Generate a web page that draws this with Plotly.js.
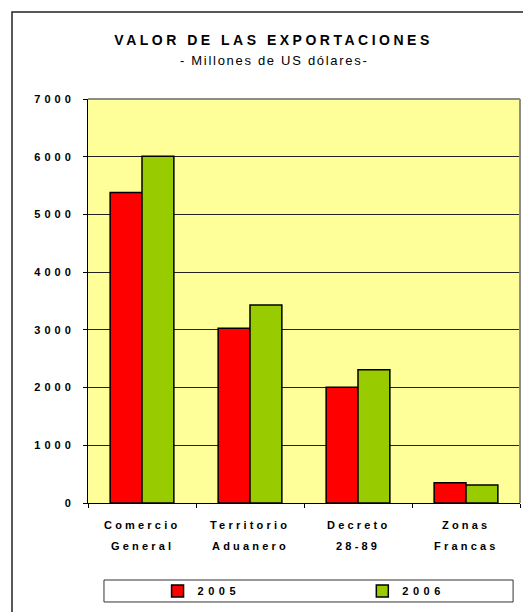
<!DOCTYPE html>
<html>
<head>
<meta charset="utf-8">
<script src="https://cdn.plot.ly/plotly-3.0.1.min.js"></script>
<style>
  html, body { margin: 0; padding: 0; background: #fff; }
  #chart { width: 523px; height: 612px; }
</style>
</head>
<body>
<div id="chart"></div>
<script>
// ---- data ----
var categories = ['Comercio General', 'Territorio Aduanero', 'Decreto 28-89', 'Zonas Francas'];
var labelLine1 = ['Comercio', 'Territorio', 'Decreto', 'Zonas'];
var labelLine2 = ['General', 'Aduanero', '28-89', 'Francas'];
var values2005 = [5380, 3030, 2005, 352];
var values2006 = [6010, 3430, 2310, 312];
var yTicks = [0, 1000, 2000, 3000, 4000, 5000, 6000, 7000];
var seriesNames = ['2005', '2006'];
var titleText = 'VALOR DE LAS EXPORTACIONES';
var subtitleText = '- Millones de US dólares-';

function sp(text, px) {
  return '<span style="letter-spacing:' + px + 'px">' + text + '</span>';
}
function bsp(text, px) {
  return '<b>' + sp(text, px) + '</b>';
}

var FONT = 'Arial, "Liberation Sans", sans-serif';

var traces = [
  {
    type: 'bar', name: bsp(seriesNames[0], 4.5), x: categories, y: values2005,
    legend: 'legend',
    marker: { color: '#FF0000', line: { color: '#000000', width: 1.5 } }
  },
  {
    type: 'bar', name: bsp(seriesNames[1], 4.5), x: categories, y: values2006,
    legend: 'legend2',
    marker: { color: '#99CC00', line: { color: '#000000', width: 1.5 } }
  }
];

var annotations = [];
categories.forEach(function (c, i) {
  annotations.push({
    xref: 'x', yref: 'paper', x: c, y: -0.0545, yanchor: 'middle', xanchor: 'center',
    text: bsp(labelLine1[i], 3.2), showarrow: false,
    font: { family: FONT, size: 11, color: '#000', weight: 'bold' }
  });
  annotations.push({
    xref: 'x', yref: 'paper', x: c, y: -0.1064, yanchor: 'middle', xanchor: 'center',
    text: bsp(labelLine2[i], 3.2), showarrow: false,
    font: { family: FONT, size: 11, color: '#000', weight: 'bold' }
  });
});
annotations.push({
  xref: 'paper', yref: 'paper', x: 0.431, y: 1.0965, xanchor: 'center', yanchor: 'middle',
  text: sp(subtitleText, 1.7), showarrow: false,
  font: { family: FONT, size: 13, color: '#000' }
});

var legendBase = {
  orientation: 'h', y: -0.218, xanchor: 'left', yanchor: 'middle',
  bgcolor: 'rgba(0,0,0,0)', borderwidth: 0,
  font: { family: FONT, size: 11, color: '#000', weight: 'bold' }
};

var layout = {
  width: 523, height: 612,
  margin: { l: 88, r: 3, t: 99, b: 109, pad: 0 },
  paper_bgcolor: '#FFFFFF',
  plot_bgcolor: '#FFFF99',
  font: { family: FONT, color: '#000' },
  title: {
    text: bsp(titleText, 3.5),
    xref: 'container', yref: 'container', x: 0.523, y: 0.9346,
    xanchor: 'center', yanchor: 'middle',
    font: { family: FONT, size: 14, color: '#000', weight: 'bold' }
  },
  barmode: 'group', bargap: 0.41, bargroupgap: 0,
  xaxis: {
    type: 'category', tickson: 'boundaries', ticks: 'outside', ticklen: 4,
    tickcolor: '#000', tickwidth: 1, showticklabels: false,
    showline: true, linecolor: '#000', linewidth: 1,
    showgrid: false, zeroline: false, fixedrange: true
  },
  yaxis: {
    range: [0, 7000], tickmode: 'array', tickvals: yTicks,
    ticktext: yTicks.map(function (v) { return bsp(String(v), 4); }),
    ticks: 'outside', ticklen: 4, tickcolor: '#000', tickwidth: 1,
    ticklabelstandoff: 6,
    tickfont: { family: FONT, size: 11, color: '#000', weight: 'bold' },
    showline: true, linecolor: '#000', linewidth: 1,
    showgrid: true, gridcolor: '#222', gridwidth: 1,
    zeroline: false, fixedrange: true
  },
  showlegend: true,
  legend: Object.assign({}, legendBase, { x: 0.161 }),
  legend2: Object.assign({}, legendBase, { x: 0.635 }),
  annotations: annotations,
  shapes: [
    { type: 'rect', xref: 'paper', yref: 'paper', x0: -0.1759, x1: 1.05, y0: -0.3, y1: 1.2153,
      line: { color: '#222', width: 1.5 }, fillcolor: 'rgba(0,0,0,0)', layer: 'below' },
    { type: 'line', xref: 'paper', yref: 'paper', x0: 0, x1: 1, y0: 1, y1: 1,
      line: { color: '#8C8C8C', width: 2 }, layer: 'above' },
    { type: 'line', xref: 'paper', yref: 'paper', x0: 1, x1: 1, y0: 0, y1: 1,
      line: { color: '#8C8C8C', width: 2 }, layer: 'above' },
    { type: 'rect', xref: 'paper', yref: 'paper', x0: 0.037, x1: 0.984, y0: -0.245, y1: -0.1906,
      line: { color: '#333', width: 1 }, fillcolor: 'rgba(0,0,0,0)', layer: 'below' }
  ]
};

Plotly.newPlot('chart', traces, layout, { displayModeBar: false, staticPlot: true });
</script>
</body>
</html>
